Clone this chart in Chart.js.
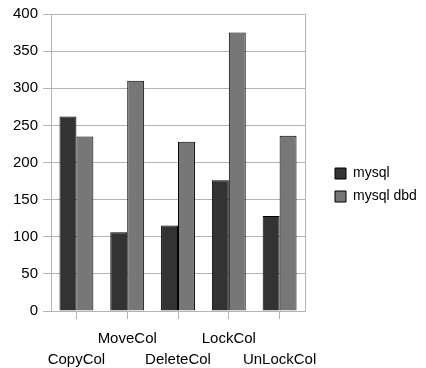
<!DOCTYPE html>
<html lang="en">
<head>
    <meta charset="UTF-8">
    <title>mysql vs mysql dbd</title>
    <script src="https://cdn.jsdelivr.net/npm/chart.js"></script>
    <style>
        body {
            margin: 0;
            background: white;
            overflow: hidden;
        }
        .chart-container {
            width: 426px;
            height: 368px;
        }
    </style>
</head>
<body>
    <div class="chart-container">
        <canvas id="colChart"></canvas>
    </div>
    <script>
        const categories = ['CopyCol', 'MoveCol', 'DeleteCol', 'LockCol', 'UnLockCol'];
        const mysqlValues = [262, 106, 115, 176, 128];
        const mysqlDbdValues = [235, 310, 228, 375, 236];
        const yTicks = [0, 50, 100, 150, 200, 250, 300, 350, 400];

        const gridColor = '#b4b4b4';

        // right-hand edge of the plot frame
        const frameEdge = {
            id: 'frameEdge',
            afterDraw(chart) {
                const a = chart.chartArea;
                const c = chart.ctx;
                c.save();
                c.strokeStyle = gridColor;
                c.lineWidth = 1;
                c.beginPath();
                c.moveTo(Math.round(a.right) + 0.5, a.top);
                c.lineTo(Math.round(a.right) + 0.5, a.bottom);
                c.stroke();
                c.restore();
            }
        };

        // push the legend a bit further away from the plot
        const legendGap = {
            id: 'legendGap',
            afterLayout(chart) {
                chart.legend.left += 21;
                chart.legend.right += 21;
                chart.legend.top -= 4;
                chart.legend.bottom -= 4;
            }
        };

        Chart.defaults.font.family = '"Liberation Sans", Arial, sans-serif';
        Chart.defaults.font.size = 14;
        Chart.defaults.color = '#000';

        const ctx = document.getElementById('colChart').getContext('2d');
        new Chart(ctx, {
            type: 'bar',
            data: {
                labels: categories,
                datasets: [{
                    label: 'mysql',
                    data: mysqlValues,
                    backgroundColor: '#333333',
                    borderColor: '#000',
                    borderWidth: 1,
                    categoryPercentage: 0.667,
                    barPercentage: 1.0
                }, {
                    label: 'mysql dbd',
                    data: mysqlDbdValues,
                    backgroundColor: '#777777',
                    borderColor: '#000',
                    borderWidth: 1,
                    categoryPercentage: 0.667,
                    barPercentage: 1.0
                }]
            },
            options: {
                responsive: true,
                maintainAspectRatio: false,
                animation: false,
                layout: {
                    padding: { top: 10, left: 8, right: 22, bottom: 0 }
                },
                scales: {
                    x: {
                        afterFit: axis => { axis.height = 57; },
                        grid: {
                            display: true,
                            drawOnChartArea: false,
                            offset: false,
                            tickLength: 8,
                            color: gridColor
                        },
                        border: { color: gridColor },
                        ticks: {
                            maxRotation: 0,
                            autoSkip: false,
                            font: { size: 15, lineHeight: 1.35 },
                            padding: 10,
                            // alternate labels between two rows
                            callback: function(value, index) {
                                const name = categories[index];
                                return index % 2 === 0 ? ['', name] : [name, ''];
                            }
                        }
                    },
                    y: {
                        min: 0,
                        max: 400,
                        afterBuildTicks: axis => {
                            axis.ticks = yTicks.map(v => ({ value: v }));
                        },
                        grid: {
                            color: gridColor,
                            tickLength: 8
                        },
                        border: { color: gridColor },
                        ticks: {
                            font: { size: 15 },
                            padding: 5
                        }
                    }
                },
                plugins: {
                    legend: {
                        position: 'right',
                        labels: {
                            boxWidth: 11,
                            boxHeight: 11,
                            padding: 9,
                            font: { size: 14 }
                        }
                    },
                    tooltip: { enabled: false }
                }
            },
            plugins: [frameEdge, legendGap]
        });
    </script>
</body>
</html>
